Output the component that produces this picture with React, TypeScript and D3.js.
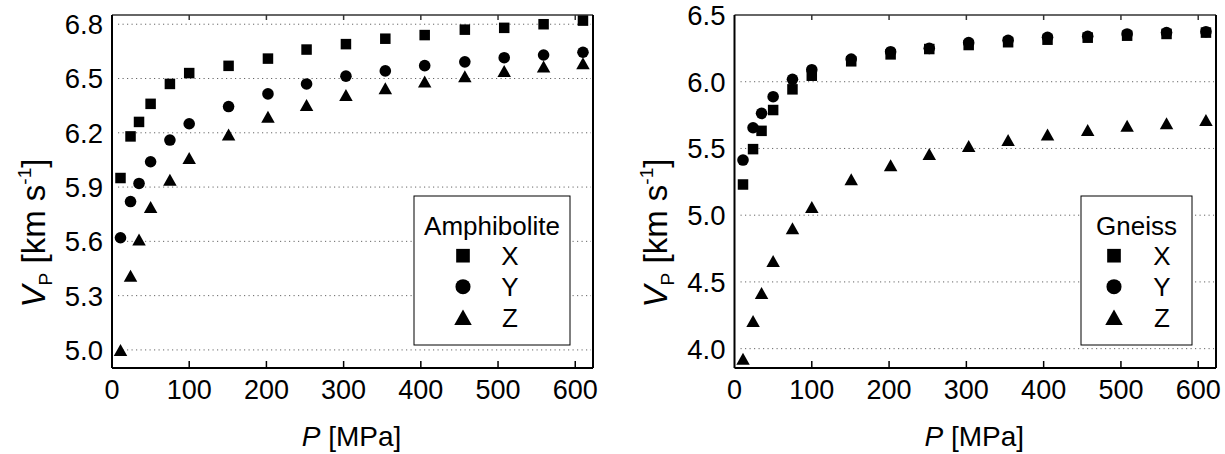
import React from "react";
import * as d3 from "d3";

const pressure = [11, 24, 35, 50, 75, 100, 151, 202, 252, 303, 354, 405, 457, 508, 559, 610];

const amphX = [5.95, 6.18, 6.26, 6.36, 6.47, 6.53, 6.57, 6.61, 6.66, 6.69, 6.72, 6.74, 6.77, 6.78, 6.80, 6.82];
const amphY = [5.62, 5.82, 5.92, 6.04, 6.16, 6.25, 6.345, 6.415, 6.47, 6.513, 6.542, 6.571, 6.592, 6.615, 6.63, 6.645];
const amphZ = [5.0, 5.41, 5.61, 5.79, 5.94, 6.06, 6.19, 6.288, 6.354, 6.409, 6.446, 6.483, 6.513, 6.542, 6.566, 6.585];

const gneissX = [5.23, 5.495, 5.632, 5.788, 5.943, 6.045, 6.153, 6.205, 6.245, 6.275, 6.296, 6.315, 6.33, 6.345, 6.358, 6.368];
const gneissY = [5.413, 5.655, 5.763, 5.888, 6.018, 6.09, 6.17, 6.225, 6.25, 6.293, 6.31, 6.333, 6.34, 6.358, 6.368, 6.375];
const gneissZ = [3.925, 4.207, 4.417, 4.657, 4.902, 5.062, 5.27, 5.375, 5.458, 5.518, 5.563, 5.605, 5.638, 5.67, 5.688, 5.713];

const xTicks = [0, 100, 200, 300, 400, 500, 600];
const amphYTicks = [5.0, 5.3, 5.6, 5.9, 6.2, 6.5, 6.8];
const gneissYTicks = [4.0, 4.5, 5.0, 5.5, 6.0, 6.5];
const seriesNames = ["X", "Y", "Z"];

const FONT = "'Liberation Sans', Arial, Helvetica, sans-serif";

type Shape = "square" | "circle" | "triangle";
const shapes: Shape[] = ["square", "circle", "triangle"];

function Marker({ shape, cx, cy, scale = 1 }: { shape: Shape; cx: number; cy: number; scale?: number }) {
  if (shape === "square") {
    const s = 10.5 * scale;
    return <rect x={cx - s / 2} y={cy - s / 2} width={s} height={s} fill="#000" />;
  }
  if (shape === "circle") {
    return <circle cx={cx} cy={cy} r={5.8 * scale} fill="#000" />;
  }
  const w = 13.5 * scale, h = 12 * scale;
  return <path d={`M${cx - w / 2},${cy + h / 2}L${cx + w / 2},${cy + h / 2}L${cx},${cy - h / 2}Z`} fill="#000" />;
}

type PanelProps = {
  left: number; right: number; top: number; bottom: number;
  yDomain: [number, number];
  yTicks: number[];
  series: number[][];
  legendTitle: string;
  legendBox: { x0: number; x1: number; y0: number; y1: number; mx: number; lx: number };
  yTitleX: number;
};

function Panel(p: PanelProps) {
  const x = d3.scaleLinear().domain([0, 623]).range([p.left, p.right]);
  const y = d3.scaleLinear().domain(p.yDomain).range([p.bottom, p.top]);
  const fmt = d3.format(".1f");
  const lb = p.legendBox;
  const rowY = [255.7, 286.7, 317.3];
  return (
    <g fontFamily={FONT}>
      {p.yTicks.filter((t) => y(t) > p.top + 2).map((t) => (
        <line key={"g" + t} x1={p.left + 6} x2={p.right - 2} y1={y(t)} y2={y(t)}
          stroke="#666" strokeWidth={1} strokeDasharray="1.2,3.3" />
      ))}
      <line x1={p.left} x2={p.right} y1={p.top} y2={p.top} stroke="#333" strokeWidth={1.5} />
      <line x1={p.right} x2={p.right} y1={p.top} y2={p.bottom} stroke="#000" strokeWidth={2} />
      <line x1={p.left} x2={p.right} y1={p.bottom} y2={p.bottom} stroke="#000" strokeWidth={2} />
      <line x1={p.left} x2={p.left} y1={p.top} y2={p.bottom} stroke="#000" strokeWidth={2} />
      {xTicks.filter((t) => t > 0).map((t) => (
        <g key={"xt" + t}>
          <line x1={x(t)} x2={x(t)} y1={p.bottom} y2={p.bottom - 7} stroke="#000" strokeWidth={1.5} />
          <line x1={x(t)} x2={x(t)} y1={p.top} y2={p.top + 5} stroke="#333" strokeWidth={1.5} />
        </g>
      ))}
      {xTicks.map((t) => (
        <text key={"xl" + t} x={x(t)} y={399} fontSize={27} textAnchor="middle" fill="#000">{t}</text>
      ))}
      {p.yTicks.map((t) => (
        <text key={"yl" + t} x={p.left - 9} y={y(t)} dy="0.36em" fontSize={27.5} textAnchor="end" fill="#000">{fmt(t)}</text>
      ))}
      <text x={(p.left + p.right) / 2 - 1} y={446} fontSize={28} textAnchor="middle" fill="#000">
        <tspan fontStyle="italic">P</tspan> [MPa]
      </text>
      <text transform={`translate(${p.yTitleX},233) rotate(-90)`} fontSize={33} textAnchor="middle" fill="#000">
        <tspan fontStyle="italic">V</tspan>
        <tspan fontSize={19} dy={7}>P</tspan>
        <tspan dy={-7}> [km s</tspan>
        <tspan fontSize={19} dy={-14}>-1</tspan>
        <tspan dy={14}>]</tspan>
      </text>
      {p.series.map((vals, si) => (
        <g key={"s" + si}>
          {vals.map((v, i) => (
            <Marker key={i} shape={shapes[si]} cx={x(pressure[i])} cy={y(v)} />
          ))}
        </g>
      ))}
      <rect x={lb.x0} y={lb.y0} width={lb.x1 - lb.x0} height={lb.y1 - lb.y0} fill="#fff" stroke="#000" strokeWidth={1} />
      <text x={(lb.x0 + lb.x1) / 2} y={235} fontSize={26} textAnchor="middle" fill="#000">{p.legendTitle}</text>
      {seriesNames.map((n, i) => (
        <g key={"lg" + n}>
          <Marker shape={shapes[i]} cx={lb.mx} cy={rowY[i]} scale={1.3} />
          <text x={lb.lx} y={rowY[i]} dy="0.36em" fontSize={26} textAnchor="middle" fill="#000">{n}</text>
        </g>
      ))}
    </g>
  );
}

export default function App() {
  return (
    <svg width={1225} height={454} style={{ position: "absolute", left: 0, top: 0, background: "#fff" }}>
      <rect x={0} y={0} width={1225} height={454} fill="#fff" />
      <Panel left={112} right={593} top={15} bottom={368}
        yDomain={[4.9, 6.851]} yTicks={amphYTicks}
        series={[amphX, amphY, amphZ]} legendTitle="Amphibolite"
        legendBox={{ x0: 414, x1: 570, y0: 196, y1: 345, mx: 463, lx: 510 }}
        yTitleX={45} />
      <Panel left={734.5} right={1216} top={15} bottom={368}
        yDomain={[3.855, 6.5]} yTicks={gneissYTicks}
        series={[gneissX, gneissY, gneissZ]} legendTitle="Gneiss"
        legendBox={{ x0: 1081, x1: 1192, y0: 196, y1: 345, mx: 1114, lx: 1162 }}
        yTitleX={667} />
    </svg>
  );
}
